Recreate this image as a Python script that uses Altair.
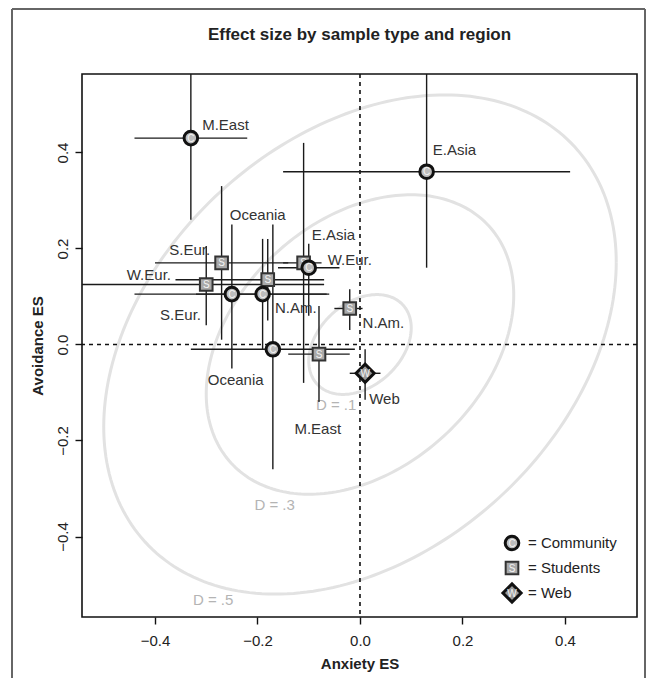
import altair as alt
import pandas as pd
import numpy as np

# ---------------- data ----------------
regions = ["M.East", "E.Asia", "W.Eur.", "S.Eur.", "N.Am.", "Oceania",
           "S.Eur.", "E.Asia", "Oceania", "W.Eur.", "N.Am.", "M.East", "Web"]
types = ["C", "C", "C", "C", "C", "C", "S", "S", "S", "S", "S", "S", "W"]
anx = [-0.33, 0.13, -0.10, -0.25, -0.19, -0.17, -0.27, -0.11, -0.18, -0.30, -0.02, -0.08, 0.01]
anx_lo = [-0.44, -0.15, -0.16, -0.44, -0.32, -0.33, -0.40, -0.15, -0.36, -0.56, -0.05, -0.14, -0.02]
anx_hi = [-0.22, 0.41, -0.04, -0.06, -0.065, -0.01, -0.14, -0.075, -0.07, -0.07, 0.005, -0.02, 0.04]
avo = [0.43, 0.36, 0.16, 0.105, 0.105, -0.01, 0.17, 0.17, 0.135, 0.125, 0.075, -0.02, -0.06]
avo_lo = [0.26, 0.16, 0.06, -0.05, -0.01, -0.26, 0.01, -0.08, 0.05, 0.04, 0.03, -0.12, -0.115]
avo_hi = [0.60, 0.57, 0.21, 0.25, 0.22, 0.25, 0.33, 0.42, 0.22, 0.205, 0.115, 0.08, -0.01]
lab_x = [-0.308, 0.142, -0.063, -0.390, -0.166, -0.297, -0.372, -0.094, -0.254, -0.455, 0.005, -0.128, 0.018]
lab_y = [0.457, 0.405, 0.176, 0.061, 0.075, -0.074, 0.197, 0.228, 0.270, 0.145, 0.044, -0.177, -0.114]

d_values = [0.1, 0.3, 0.5]
d_text = ["D = .1", "D = .3", "D = .5"]
d_lab_x = [-0.086, -0.206, -0.326]
d_lab_y = [-0.126, -0.334, -0.532]
contour_r = 0.33      # correlation shaping the D contours
contour_sy = 1.04     # avoidance stretch of the contours

chart_title = "Effect size by sample type and region"
legend_labels = ["= Community", "= Students", "= Web"]
x_ticks = [-0.4, -0.2, 0.0, 0.2, 0.4]
y_ticks = [-0.4, -0.2, 0.0, 0.2, 0.4]

# ---------------- tables ----------------
df = pd.DataFrame({
    "region": regions, "type": types, "x": anx, "xlo": anx_lo, "xhi": anx_hi,
    "y": avo, "ylo": avo_lo, "yhi": avo_hi, "lx": lab_x, "ly": lab_y,
})

theta = np.arccos(contour_r)
rows = []
for d in d_values:
    for i, t in enumerate(np.linspace(0, 2 * np.pi, 241)):
        rows.append({"D": d, "i": i, "x": d * np.cos(t),
                     "y": contour_sy * d * np.cos(t - theta)})
ell = pd.DataFrame(rows)
dlab = pd.DataFrame({"x": d_lab_x, "y": d_lab_y, "t": d_text})
zero = pd.DataFrame({"v": [0.0]})
one = pd.DataFrame({"k": [0]})

FONT = "Liberation Sans"
W, H = 555, 543
xs = alt.Scale(domain=[-0.5424, 0.5405], nice=False, zero=False)
ys = alt.Scale(domain=[-0.5677, 0.5635], nice=False, zero=False)

X = alt.X("x:Q", scale=xs, axis=alt.Axis(values=x_ticks, format=".1f", title="Anxiety ES"))
Y = alt.Y("y:Q", scale=ys, axis=alt.Axis(values=y_ticks, format=".1f", title="Avoidance ES"))

ellipses = alt.Chart(ell).mark_line(clip=True, color="#e2e2e2", strokeWidth=3).encode(
    x=X, y=Y, detail="D:N", order="i:Q")

dtext = alt.Chart(dlab).mark_text(align="left", baseline="middle", font=FONT,
                                  fontSize=15, color="#b4b4b4").encode(
    x=alt.X("x:Q", scale=xs), y=alt.Y("y:Q", scale=ys), text="t:N")

vzero = alt.Chart(zero).mark_rule(color="#111", strokeDash=[4, 4], strokeWidth=1.6).encode(
    x=alt.X("v:Q", scale=xs))
hzero = alt.Chart(zero).mark_rule(color="#111", strokeDash=[4, 4], strokeWidth=1.6).encode(
    y=alt.Y("v:Q", scale=ys))

base = alt.Chart(df)
vbars = base.mark_rule(clip=True, color="#1a1a1a", strokeWidth=1.4).encode(
    x=alt.X("x:Q", scale=xs), y=alt.Y("ylo:Q", scale=ys), y2="yhi:Q")
hbars = base.mark_rule(clip=True, color="#1a1a1a", strokeWidth=1.4).encode(
    y=alt.Y("y:Q", scale=ys), x=alt.X("xlo:Q", scale=xs), x2="xhi:Q")

C_STYLE = ("circle", 185, "#bdbdbd", "#111111", 3)
S_STYLE = ("square", 160, "#a9a9a9", "#333333", 2)
W_STYLE = ("diamond", 330, "#9a9a9a", "#111111", 3)

def pts(t, style):
    shape, size, fill, stroke, sw = style
    return base.transform_filter(alt.datum.type == t).mark_point(
        shape=shape, size=size, filled=True, fill=fill, stroke=stroke,
        strokeWidth=sw, opacity=1).encode(x=alt.X("x:Q", scale=xs), y=alt.Y("y:Q", scale=ys))

def letters(t):
    return base.transform_filter(alt.datum.type == t).mark_text(
        font=FONT, fontSize=10, color="#f4f4f4", baseline="middle", align="center",
        dy=0.5).encode(x=alt.X("x:Q", scale=xs), y=alt.Y("y:Q", scale=ys), text="type:N")

labels = base.mark_text(font=FONT, fontSize=15, color="#333333", align="left",
                        baseline="middle").encode(
    x=alt.X("lx:Q", scale=xs), y=alt.Y("ly:Q", scale=ys), text="region:N")

# legend (drawn by hand, bottom-right inside plot)
leg_x, leg_tx = 430, 446
leg_y = [469, 494, 519]
legend_layers = []
for style, letter, lab, ly in zip([C_STYLE, S_STYLE, W_STYLE], ["C", "S", "W"],
                                  legend_labels, leg_y):
    shape, size, fill, stroke, sw = style
    legend_layers.append(alt.Chart(one).mark_point(
        shape=shape, size=size, filled=True, fill=fill, stroke=stroke, strokeWidth=sw,
        opacity=1).encode(x=alt.value(leg_x), y=alt.value(ly)))
    legend_layers.append(alt.Chart(one).mark_text(
        font=FONT, fontSize=10, color="#f4f4f4", baseline="middle", align="center",
        dy=0.5, text=letter).encode(x=alt.value(leg_x), y=alt.value(ly)))
    legend_layers.append(alt.Chart(one).mark_text(
        font=FONT, fontSize=15, color="#222222", baseline="middle", align="left",
        text=lab).encode(x=alt.value(leg_tx), y=alt.value(ly)))

# chart title as a text mark above the plot
title_mark = alt.Chart(one).mark_text(
    font=FONT, fontSize=17, fontWeight="bold", color="#222222", align="center",
    baseline="middle", text=chart_title).encode(x=alt.value(W / 2), y=alt.value(-39))

# outer figure frame
frame = [
    alt.Chart(one).mark_rule(color="#666666", strokeWidth=2).encode(
        x=alt.value(-70), y=alt.value(-65), y2=alt.value(610)),
    alt.Chart(one).mark_rule(color="#666666", strokeWidth=2).encode(
        x=alt.value(563), y=alt.value(-65), y2=alt.value(610)),
    alt.Chart(one).mark_rule(color="#666666", strokeWidth=2).encode(
        x=alt.value(-70), x2=alt.value(563), y=alt.value(-65)),
]

chart = alt.layer(
    ellipses, dtext, vzero, hzero, vbars, hbars,
    pts("S", S_STYLE), letters("S"),
    pts("C", C_STYLE), letters("C"),
    pts("W", W_STYLE), letters("W"),
    labels, *legend_layers, title_mark, *frame,
).properties(
    width=W, height=H,
    autosize=alt.AutoSizeParams(type="none"),
    padding={"left": 74, "top": 66, "right": 10, "bottom": 61},
).configure_view(
    stroke="#111111", strokeWidth=1.6
).configure_axis(
    grid=False, domain=False, tickSize=7, tickColor="#111111", tickWidth=1.4,
    labelFont=FONT, labelFontSize=15, labelColor="#222222",
    titleFont=FONT, titleFontSize=15, titleFontWeight="bold", titleColor="#222222",
).configure_axisX(
    labelPadding=9, titlePadding=8
).configure_axisY(
    labelAngle=270, labelAlign="center", labelBaseline="bottom", labelPadding=5,
    titlePadding=10
)

chart.save("out.html", embed_options={"renderer": "svg", "actions": False})
